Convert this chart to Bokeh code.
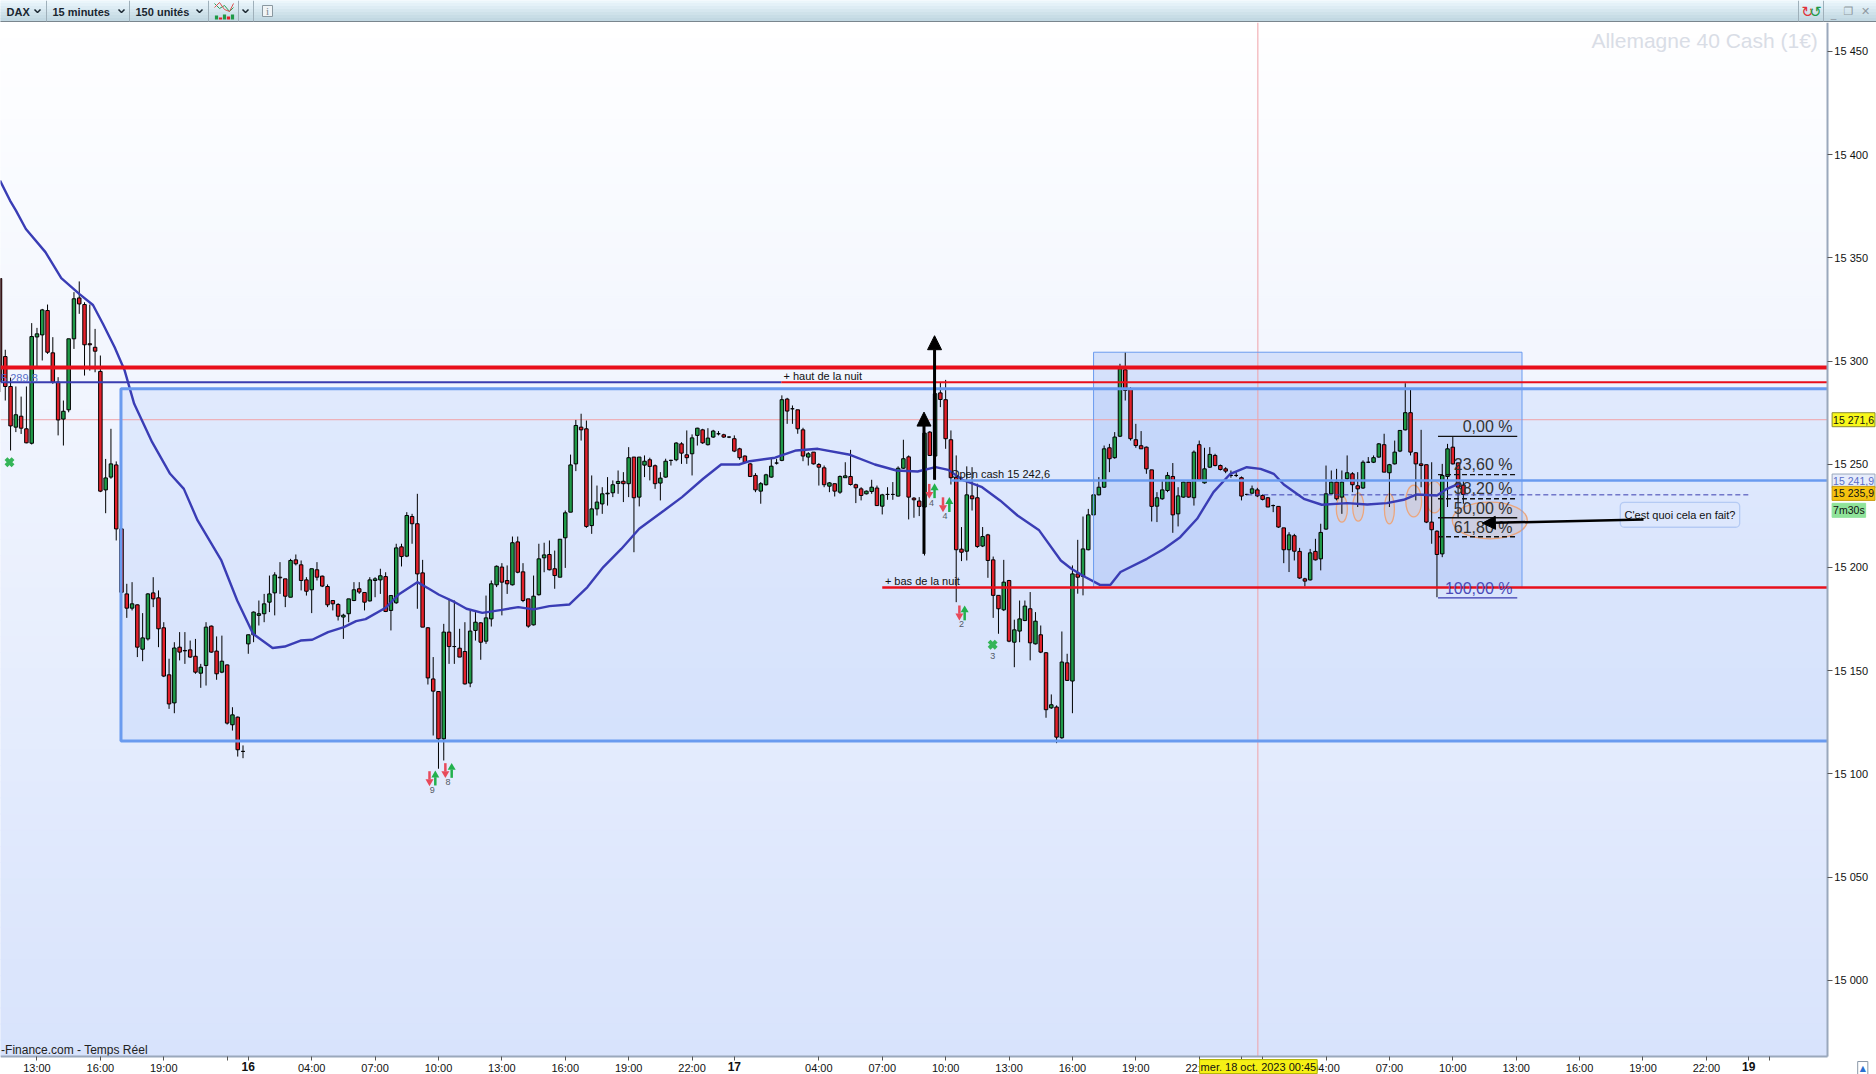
from bokeh.plotting import figure
from bokeh.layouts import column
from bokeh.models import Label, Arrow, NormalHead, FixedTicker, BoxAnnotation, Range1d
from bokeh.core.properties import value
from bokeh.embed import file_html
from bokeh.resources import INLINE

open_ = [15340,15302.2,15287.7,15268,15273.3,15267.2,15260.2,15311.7,15312.7,15324.5,
15304,15289.8,15271.9,15276.4,15310.8,15330.6,15327.4,15308.4,15306.7,15295,
15237.6,15243.8,15249.7,15218.7,15187.2,15180.3,15181.9,15160.4,15165.4,15187.7,
15185.3,15170.8,15148,15134.4,15161.4,15159.8,15160.1,15157,15148.8,15152.5,
15171.6,15159.5,15149.3,15152.8,15123.8,15127.5,15110.9,15163,15167.4,15176.8,
15177.6,15183.2,15187.7,15195.3,15194.5,15185.6,15203.7,15201.3,15194,15189.2,
15198.9,15195.8,15190.8,15184,15182.1,15176,15177.6,15184,15189.7,15187.9,
15183.8,15193.7,15194,15195.6,15179.2,15182.9,15210,15205.5,15224.7,15221.2,
15197.4,15170.8,15146,15139.9,15117,15168.7,15161.7,15160.9,15159.3,15144,
15169.5,15173.2,15164.3,15175.1,15191.6,15200.2,15193.7,15191.6,15212.4,15197.9,
15184.8,15172.2,15186.8,15204.7,15206.3,15199.4,15195.3,15214.4,15226.8,15250.2,
15268,15267.2,15220.3,15228.4,15230.8,15235.7,15236.2,15240.7,15241.8,15240.6,
15253.5,15234.1,15249.6,15252.2,15249.3,15240.9,15243.8,15251.9,15252.2,15259.9,
15254.6,15255.1,15264,15266.7,15259.5,15263.2,15264.8,15264.3,15263.2,15262.4,
15257.5,15254,15250.2,15244.6,15237,15240.1,15243.8,15250.6,15251.9,15281.6,
15276.9,15276.4,15266.7,15253.5,15255.9,15249.9,15248.3,15239.4,15240.6,15236.5,
15243.5,15244.1,15240.1,15238.1,15235.7,15236.8,15238.5,15229.7,15235.4,15235.4,
15234.6,15248.1,15253.6,15233.6,15232.2,15229.3,15265.6,15254,15284.6,15281.3,
15261.9,15243.8,15208.9,15207.9,15234.7,15233.8,15210.4,15215.8,15203.7,15186.5,
15179.5,15193.7,15163.8,15169.2,15174.3,15180,15163,15167.4,15158.7,15132,
15132.4,15117.5,15153.8,15145,15196.9,15195.7,15208.6,15225.5,15235.2,15238.9,
15258,15253.2,15263.6,15295.8,15286.6,15261.9,15259,15258.3,15247.3,15229.7,
15233.3,15237.3,15244.1,15226,15234.1,15241.4,15233.8,15259.5,15241,15248.6,
15254.3,15249.4,15247.8,15244.6,15244.6,15243.5,15235.4,15236,15237.6,15234.9,
15233.8,15230,15229.6,15219.2,15208.6,15215.4,15207.8,15194.5,15194,15207.8,
15204.2,15218.6,15235.7,15241.4,15234.1,15243,15245.4,15239.6,15238.5,15251,
15251,15253.5,15259.5,15245.9,15250.2,15256.4,15266.7,15275,15255.6,15250.2,
15249.8,15222,15217.6,15206.6,15244.1,15258.3,15250.7,15239.9]

high = [15340,15305.5,15292,15287.7,15282.8,15287.7,15318.4,15316.1,15325.3,15327.4,
15311.6,15292.2,15280.9,15310.8,15333.4,15338.6,15328.5,15327.4,15315.6,15302.7,
15252.6,15267.2,15251.4,15219.5,15192.1,15192.9,15182.1,15177.9,15187.6,15195.3,
15188.9,15173.5,15155.8,15163.8,15168.7,15168.7,15164.6,15165.4,15153.3,15173.5,
15171.9,15166.6,15167,15153,15132.3,15127.8,15113.8,15167.5,15178.7,15184,
15187.2,15196.1,15197.7,15202.6,15194.5,15204.2,15206.3,15203.4,15195.3,15199.4,
15202.6,15196.1,15191.8,15184,15182.7,15177.6,15184.8,15192.9,15192.9,15187.9,
15195.3,15195.3,15199.4,15197.7,15186.4,15211.5,15211.5,15226.8,15226,15235.7,
15203.7,15171.1,15156.6,15139.9,15172.7,15184.8,15184,15170.3,15173.5,15179.2,
15178.4,15173.5,15186.4,15193.7,15201,15202.1,15201,15215,15215,15202.1,
15184.8,15196.1,15211.5,15212,15213.1,15208.2,15213.7,15227.6,15254.7,15271.5,
15274.5,15271.2,15244.6,15239.7,15238.9,15243.8,15242.2,15247,15246.2,15258.3,
15253.5,15253.5,15254.3,15253.2,15249.9,15246.2,15252.7,15252.2,15260.7,15260.7,
15266.4,15264.5,15267.7,15267.2,15267.5,15266.7,15266.1,15264.8,15263.5,15264,
15258,15254.3,15250.6,15245.7,15241.4,15245.4,15252.7,15252.7,15283.4,15282.2,
15278.5,15276.4,15267.7,15255.9,15255.9,15250.6,15249.4,15241.4,15240.6,15244.6,
15251,15257,15240.6,15238.9,15237.3,15242.5,15239.7,15235.7,15238.9,15241.4,
15249,15261.9,15254.3,15234.1,15234.1,15269.6,15266.1,15289,15289.8,15290.9,
15266.4,15254.3,15219.6,15249,15248.6,15240.6,15219.6,15216.3,15205.3,15186.5,
15203.7,15194,15174.7,15184,15184,15188.1,15178.4,15171.9,15159,15138.5,
15133.2,15169,15158.2,15201,15213.4,15224.7,15228.4,15243,15243.8,15259.1,
15259.9,15265.6,15298.7,15304.3,15287.4,15269.6,15266.1,15258.6,15247.3,15236.5,
15242.2,15246.2,15250.6,15238.9,15241.7,15241.4,15256.7,15261.5,15258,15258.3,
15255.1,15249.9,15248.6,15247,15246.2,15244.1,15235.7,15239.7,15238.6,15235.4,
15234.1,15230.5,15229.6,15219.2,15217.1,15216.3,15209.5,15195,15209,15213.9,
15221.2,15249.4,15247,15247.8,15247,15254.3,15246.2,15246.2,15251.9,15253.5,
15254.3,15260.3,15264.8,15250.2,15261.5,15266.4,15289.3,15286.6,15255.9,15266.7,
15249.8,15251,15218,15250.2,15259.9,15263.2,15250.7,15242.2]

low = [15285,15280.9,15256.7,15265.6,15264.7,15260.2,15259.6,15296.2,15300.3,15303.5,
15289,15264,15259.1,15275.2,15305.9,15322.9,15293,15295.4,15294.6,15236.5,
15226.3,15243,15213.1,15187.2,15175.6,15179.2,15156.6,15154.6,15164.6,15180.8,
15161.4,15146.9,15131.5,15129.4,15155,15153.3,15156.2,15148.5,15141.7,15142.8,
15158.7,15145.6,15148.8,15123.9,15121,15108.4,15107.6,15158.2,15163.8,15171.9,
15173.5,15178.4,15176.8,15187.2,15180.8,15185.6,15201,15188.9,15186.4,15177.9,
15193.7,15190.5,15180.8,15179.2,15174.3,15165.4,15173.5,15183.7,15187.2,15179.2,
15183.5,15185.6,15187.2,15178.4,15169.5,15182.4,15200.5,15205,15211.5,15180,
15171.1,15143.3,15118.6,15102.5,15106.5,15153.3,15153.3,15156.6,15143.3,15142,
15164.6,15155.3,15163,15171.4,15190.5,15176.8,15187.2,15191.3,15197.2,15183.2,
15170.8,15171.9,15186.4,15197.7,15198.6,15189.7,15195.3,15199.8,15226.8,15246.7,
15261.5,15219.2,15216.3,15225.2,15226,15230,15234.1,15235.7,15231.7,15234.1,
15207.4,15229.6,15243.8,15242.2,15238.1,15232.5,15243.5,15249.4,15251.5,15250.2,
15250.2,15244.6,15259.1,15259.9,15259.1,15262.8,15264,15262.8,15262.7,15255.9,
15252.2,15250.6,15243.8,15236.5,15230.9,15239.7,15243.5,15249.9,15251.5,15269.6,
15269.6,15264.8,15251.5,15249.4,15249.9,15239.7,15238.9,15236.5,15234.4,15235.7,
15243.5,15239.7,15231.2,15232.5,15235.4,15235.7,15230,15225.7,15232.8,15232.8,
15234.4,15247.8,15223.3,15224.1,15224.9,15205.8,15254,15242.5,15277.7,15257.5,
15240.2,15183.2,15203.1,15203.4,15227.6,15209.5,15209.9,15195,15175.6,15167.9,
15178.9,15163.8,15151.7,15163.8,15174,15155,15162.7,15158.5,15127.2,15131.5,
15114.9,15117,15145,15129.4,15187.3,15186.5,15208.3,15225.2,15234.9,15238.6,
15246.2,15252.7,15263.2,15280.9,15261.5,15258,15257.5,15245.4,15222.3,15222,
15232.8,15236.5,15216.8,15219.9,15233.8,15233.8,15230,15242.2,15240.6,15248.3,
15249,15247,15245.7,15243.5,15243.8,15232.5,15234.9,15235.7,15234.1,15232.5,
15229.3,15226.8,15219.2,15202.1,15197.8,15203.4,15194.5,15190.8,15193.7,15203.4,
15198.6,15218.3,15235.7,15232.5,15226,15242.2,15236.5,15229.3,15238.1,15250.6,
15250.6,15253.2,15246.2,15229.3,15249.9,15255.9,15266.4,15254.3,15232.5,15238.9,
15221.5,15211.5,15185.6,15205,15229.3,15249.9,15224.4,15230.9]

close = [15290,15287.7,15268.6,15274,15267.5,15260.4,15311.9,15313.2,15324.8,15304.3,
15289.8,15271.5,15275.7,15310.8,15330.2,15327.7,15307.9,15307.9,15304.8,15237,
15243.4,15250.2,15218.7,15188,15180.3,15182.4,15161.4,15165.9,15187.2,15184.8,
15170.3,15147.4,15133.9,15161,15159,15159.6,15156.6,15149.3,15151.7,15171.1,
15159,15148.5,15154.6,15124.6,15128.6,15111.7,15110.9,15167.4,15178.4,15177.6,
15182.4,15187.2,15196.4,15195,15186.1,15203.4,15201.8,15193.7,15188.5,15199.4,
15195.3,15191,15181.9,15182.4,15176.4,15176.9,15184.8,15189.2,15188.1,15183.2,
15194,15194.5,15196,15178.7,15186.4,15209.5,15205.3,15225.2,15221.2,15196.9,
15171.1,15146.5,15140.1,15117,15168.7,15161.7,15161.7,15156.6,15143.6,15169.2,
15173.5,15163.8,15175.6,15192.1,15200.6,15192.9,15192.1,15212,15197.7,15184,
15171.6,15186.1,15204.2,15206.1,15198.9,15196.1,15213.7,15226.5,15249.7,15268.8,
15266.7,15219.9,15228.4,15231.7,15235.7,15236,15240.1,15241.7,15240.6,15253.2,
15233.8,15253.5,15251.5,15249,15240.6,15243.3,15251.5,15251.9,15260.3,15255.4,
15253.2,15262.8,15267.5,15260.4,15262.7,15266.1,15264.8,15263.2,15263.2,15256.4,
15253.2,15251,15244.1,15237.6,15240.6,15244.9,15249.1,15250.6,15281.3,15275.8,
15276.9,15267.2,15254,15255.1,15250.2,15248.6,15240.1,15241,15237,15244.1,
15244.4,15240.2,15238.6,15234.9,15237,15238.9,15230,15235.2,15235.4,15235.4,
15248.1,15252.7,15234.1,15232.8,15229.6,15265.1,15254.3,15284.2,15281.4,15262.4,
15243.5,15208.6,15207.4,15235.2,15233.3,15210.2,15215,15203.4,15186.5,15180,
15192.9,15164.3,15169.8,15175.1,15181.3,15163.5,15174,15159,15131.1,15133.5,
15117.8,15154.2,15145.3,15196.9,15195.3,15209,15225.5,15235.2,15238.9,15257.5,
15252.7,15263.2,15296.3,15285.8,15262.4,15259.1,15257.5,15247.8,15229.6,15233.8,
15237.6,15244.6,15225.5,15234.7,15241.4,15234.1,15255.9,15242.5,15247.8,15254.8,
15249.4,15247.5,15246.7,15244.6,15244.6,15234.6,15235.4,15238.1,15234.7,15233,
15229.3,15230,15219.6,15208.6,15215.8,15207.9,15194.9,15193.4,15207.1,15203.7,
15217,15235.7,15241.4,15233.3,15241.4,15245.9,15240.1,15238.1,15251,15251,
15253.2,15259.9,15246.2,15249.8,15255.9,15266.4,15275,15255.9,15250.2,15249.4,
15222,15218.3,15206.3,15244.6,15257.5,15250.2,15238.9,15235.4]

ma_bar = [0,1.9,3,4.9,8.6,11.6,15,17.6,19.5,21.7,23.6,25.4,28.8,32.2,34.8,37.4,41.9,44.9,47.9,51.6,53.9,56.9,59.1,62.1,65.1,67.4,69.2,73,75.6,79,81.2,83.1,86.1,88.3,91.3,95,98.1,101,104,107.8,111.2,114.2,117.6,121,125.7,129.1,133.1,136.5,139.9,141.9,146.7,150.7,154.8,160.9,165.6,169.7,173.7,177.1,179.5,182.2,185.9,189.3,192.6,196.7,200.8,202.8,205.5,208.2,210.2,212.1,217.1,220.3,223.4,226.6,229.7,232.9,236,238.6,241.1,243,246.8,250.2,255,258.8,262.5,265.7,268.2,272,273.9,276.4]
ma_val = [15387.5,15377.8,15373,15364,15352.8,15340.2,15332.6,15327.2,15318,15306.7,15295.4,15279.3,15260.7,15245.4,15238.1,15222.8,15203.4,15184,15167.9,15161,15161.7,15164.6,15165,15168.7,15171.1,15174,15175,15180.5,15187.2,15192.9,15189.7,15186.8,15183.2,15180,15178,15179.5,15180.8,15179.7,15181.3,15182.1,15190.5,15200.2,15209,15218.8,15227.6,15234.1,15243,15249.9,15249.9,15251.5,15253.2,15256.7,15257.5,15254.6,15249.9,15247,15246.5,15248.6,15247.3,15242.5,15238.9,15232.5,15225.2,15218,15203.4,15199.4,15195.3,15191.6,15191.6,15197.8,15204.2,15209,15214.7,15223.6,15236.5,15245.4,15248.6,15247.8,15245.4,15240.2,15233.3,15230.4,15231.2,15230.5,15231.2,15232.8,15235.4,15234.9,15238.1,15240.9]

y_ticks = [15000, 15050, 15100, 15150, 15200, 15250, 15300, 15350, 15400, 15450]
y_tick_labels = ["15 000", "15 050", "15 100", "15 150", "15 200", "15 250", "15 300", "15 350", "15 400", "15 450"]
x_ticks = [7,19,31,43,47,59,71,83,95,107,119,131,139,155,167,179,191,203,215,227,235,239,251,263,275,287,299,311,323,331,335]
x_tick_labels = ["13:00","16:00","19:00","","","04:00","07:00","10:00","13:00","16:00","19:00","22:00","","04:00","07:00","10:00","13:00","16:00","19:00","22:00","","","04:00","07:00","10:00","13:00","16:00","19:00","22:00","",""]
day_ticks = [47, 139, 331]
day_labels = ["16", "17", "19"]

level_top_red = 15296.9
level_night_high = 15289.8
level_crosshair = 15271.6
level_open_cash = 15242.2
level_last = 15235.2
level_night_low = 15190.3
box1 = (22.9, 15286.6, 15116.0)
box2 = (207.0, 288.1, 15304.3, 15190.3)
fib_x = (272.2, 287.2)
fib_levels = [15263.5, 15245.0, 15233.3, 15224.1, 15214.9, 15185.3]
fib_text_y = [15268.3, 15249.9, 15238.1, 15228.8, 15219.6, 15189.7]
fib_names = ["0,00 %", "23,60 %", "38,20 %", "50,00 %", "61,80 %", "100,00 %"]
ell_x = [254, 257.1, 263, 267.6, 271.5, 282]
ell_y = [15228.4, 15229.3, 15228.4, 15232.2, 15234.1, 15222.8]
ell_w = [2.1, 2.1, 1.9, 3, 3.2, 14.2]
ell_h = [12.9, 13.7, 14.5, 15.3, 15.3, 17.8]
sig_red_x = [81.3, 84.3, 175.9, 178.5, 181.6]
sig_red_y = [15097.3, 15101.2, 15236.5, 15230, 15177.6]
sig_grn_x = [82.4, 85.5, 176.9, 179.7, 182.6]
sig_grn_y = [15098.4, 15102.1, 15237.6, 15230.9, 15178.4]
sig_txt_x = [81.8, 84.8, 176.3, 178.9, 182, 187.9]
sig_txt_y = [15092, 15096, 15231.4, 15224.9, 15172.6, 15156.9]
sig_txt = ["9", "8", "4", "4", "2", "3"]
cross_x = [1.8, 187.9]
cross_y = [15251, 15162.6]

FONT = "Liberation Sans"
GREEN, RED = "#1f9a48", "#e3202a"
XR = (0.095, 355.2)
YR = (14954.36, 15464.05)
PLOT_R = 345.9
PLOT_B = 14963.1

p = figure(width=1876, height=1052, output_backend="svg", toolbar_location=None,
           x_range=Range1d(*XR), y_range=Range1d(*YR), x_axis_location="below",
           y_axis_location="right", min_border=0, outline_line_color=None,
           background_fill_color="#ffffff", border_fill_color="#ffffff")
p.grid.visible = False

# axes are pinned inside the frame so price tags can overlap their strip
p.xaxis.fixed_location = PLOT_B
p.yaxis.fixed_location = PLOT_R
p.xaxis.bounds = (XR[0], PLOT_R)
p.yaxis.bounds = (PLOT_B, YR[1])
p.xaxis.ticker = FixedTicker(ticks=x_ticks)
p.xaxis.major_label_overrides = dict(zip(x_ticks, x_tick_labels))
p.yaxis.ticker = FixedTicker(ticks=y_ticks)
p.yaxis.major_label_overrides = dict(zip(y_ticks, y_tick_labels))
for ax in (p.xaxis[0], p.yaxis[0]):
    ax.major_label_text_font = FONT
    ax.major_label_text_font_size = "11px"
    ax.major_label_text_color = "#111111"
    ax.axis_line_color = "#9aa8bc"
    ax.axis_line_width = 2
    ax.major_tick_line_color = "#555555"
    ax.major_tick_in = 0
    ax.minor_tick_out = 0
    ax.minor_tick_in = 0
p.xaxis.major_tick_out = 4
p.yaxis.major_tick_out = 5
p.xaxis.major_label_standoff = 2
p.yaxis.major_label_standoff = 2

# background gradient (white to pale blue, top to bottom), plot area only
N = 64
bands_top, bands_bot, bands_col = [], [], []
for i in range(N):
    t = (i + 0.5) / N
    col = "#%02x%02x%02x" % (round(255 - 39 * t), round(255 - 28 * t), round(255 - 3 * t))
    bands_top.append(YR[1] - (YR[1] - PLOT_B) * i / N)
    bands_bot.append(YR[1] - (YR[1] - PLOT_B) * (i + 1) / N)
    bands_col.append(col)
p.quad(left=XR[0], right=PLOT_R, top=bands_top, bottom=bands_bot, fill_color=bands_col, line_color=bands_col)

# drawn boxes
p.quad(left=[box1[0]], right=[PLOT_R], top=[box1[1]], bottom=[box1[2]], fill_color="#8fb0f7", fill_alpha=0.17, line_color=None)
p.quad(left=[box2[0]], right=[box2[1]], top=[box2[2]], bottom=[box2[3]], fill_color="#6f98f2", fill_alpha=0.22, line_color=None)

# crosshair
p.segment(x0=[XR[0]], x1=[PLOT_R], y0=[level_crosshair], y1=[level_crosshair], line_color="#f0a2a8", line_width=1)
p.segment(x0=[238.1], x1=[238.1], y0=[PLOT_B], y1=[YR[1]], line_color="#f0a2a8", line_width=1)

# ellipses
p.ellipse(x=ell_x, y=ell_y, width=ell_w, height=ell_h, fill_color="#d6c8cc", fill_alpha=0.55, line_color="#eba67e", line_width=1.3)

# candles
bars = list(range(len(close)))
up = [c >= o for o, c in zip(open_, close)]
p.segment(x0=bars, x1=bars, y0=low, y1=high, line_color="#000000", line_width=1)
p.vbar(x=bars, width=0.66, top=[max(o, c) for o, c in zip(open_, close)], bottom=[min(o, c) for o, c in zip(open_, close)],
       fill_color=[GREEN if u else RED for u in up], line_color="#000000", line_width=1)

# moving average
p.line(ma_bar, ma_val, line_color="#3a3db5", line_width=2.4)

# box outlines
p.line([PLOT_R, box1[0], box1[0], PLOT_R], [box1[1], box1[1], box1[2], box1[2]], line_color="#6a9bef", line_width=3)
p.quad(left=[box2[0]], right=[box2[1]], top=[box2[2]], bottom=[box2[3]], fill_color=None, line_color="#6a9bef", line_width=1)

# horizontal levels
p.segment(x0=[XR[0]], x1=[PLOT_R], y0=[level_top_red], y1=[level_top_red], line_color="#e8101c", line_width=4)
p.segment(x0=[XR[0]], x1=[147.9], y0=[level_night_high], y1=[level_night_high], line_color="#3a3db0", line_width=2)
p.segment(x0=[147.9], x1=[PLOT_R], y0=[level_night_high], y1=[level_night_high], line_color="#e8101c", line_width=2)
p.segment(x0=[179.9], x1=[PLOT_R], y0=[level_open_cash], y1=[level_open_cash], line_color="#6a9bef", line_width=2.5)
p.segment(x0=[167], x1=[PLOT_R], y0=[level_night_low], y1=[level_night_low], line_color="#e8101c", line_width=2.5)
p.segment(x0=[236.1], x1=[331], y0=[level_last], y1=[level_last], line_color="#3a3db0", line_width=1, line_dash="5 3")

# fibonacci
styles = ["solid", "5 3", "5 3", "solid", "5 3", "solid"]
fcol = ["#111111"] * 5 + ["#3a3db0"]
for lv, st, c in zip(fib_levels, styles, fcol):
    p.segment(x0=[fib_x[0]], x1=[fib_x[1]], y0=[lv], y1=[lv], line_color=c, line_width=1.3, line_dash=st)
p.text(x=[286.3] * 6, y=fib_text_y, text=fib_names, text_align="right", text_baseline="middle",
       text_font=value(FONT), text_font_size="16px", text_color=["#333333"] * 5 + ["#4a4ab8"])

# signals
p.segment(x0=sig_red_x, x1=sig_red_x, y0=[v + 4 for v in sig_red_y], y1=sig_red_y, line_color="#e8495a", line_width=2.5)
p.scatter(sig_red_x, [v - 1 for v in sig_red_y], marker="inverted_triangle", size=8, fill_color="#e8495a", line_color=None)
p.segment(x0=sig_grn_x, x1=sig_grn_x, y0=[v - 4 for v in sig_grn_y], y1=sig_grn_y, line_color="#22b14c", line_width=2.5)
p.scatter(sig_grn_x, [v + 1 for v in sig_grn_y], marker="triangle", size=8, fill_color="#22b14c", line_color=None)
p.scatter(cross_x, cross_y, marker="x", size=10, line_color="#35b558", line_width=4)
p.text(x=sig_txt_x, y=sig_txt_y, text=sig_txt, text_align="center", text_baseline="middle",
       text_font=value(FONT), text_font_size="9px", text_color="#555a66")

# texts on chart
p.text(x=[148.3, 167.5, 180.0], y=[15293, 15193.7, 15245.5],
       text=["+ haut de la nuit", "+ bas de la nuit", "Open cash 15 242,6"],
       text_baseline="middle", text_font=value(FONT), text_font_size="11px", text_color="#111111")
p.text(x=[0.2], y=[15292], text=["5 289,8"], text_baseline="middle",
       text_font=value(FONT), text_font_size="11px", text_color="#5a6ec8")
p.text(x=[344.1], y=[15455.5], text=["Allemagne 40 Cash (1€)"], text_align="right", text_baseline="middle",
       text_font=value(FONT), text_font_size="21px", text_color="#d9dde6")
p.text(x=[0.2], y=[14966], text=["-Finance.com - Temps Réel"], text_baseline="middle",
       text_font=value(FONT), text_font_size="12px", text_color="#222222")

# callout and arrows
p.add_layout(BoxAnnotation(left=306.7, right=329.3, top=15231.6, bottom=15219.5, fill_color="#dde7fd",
                           fill_alpha=1, line_color="#5a8ae0", line_width=1.3, border_radius=4))
p.add_layout(Label(x=318, y=15225.5, text="C'est quoi cela en fait?", text_align="center", text_baseline="middle",
                   text_font=FONT, text_font_size="11px", text_color="#111111"))
for xs, ys, xe, ye, w, sz in [(311.1, 15223.3, 280.6, 15221.5, 2.5, 13), (174.9, 15206.6, 174.9, 15275.3, 3, 14),
                              (176.9, 15242.5, 176.9, 15312.3, 3, 14)]:
    p.add_layout(Arrow(end=NormalHead(size=sz, fill_color="#000000", line_color="#000000"), line_color="#000000",
                       line_width=w, x_start=xs, y_start=ys, x_end=xe, y_end=ye))

# price tags in the right strip
for txt, yv, bg, fg, bc in [("15 241,9", 15241.9, "#e6ecfb", "#5a6ec8", "#9aa8bc"),
                            ("15 271,6", 15271.6, "#f8f81a", "#111111", "#8a8a30"),
                            ("15 235,9", 15235.9, "#f4c20f", "#111111", "#c89a10"),
                            ("7m30s", 15227.7, "#8fe39a", "#111111", "#8fe39a")]:
    p.add_layout(Label(x=346.8, y=yv, text=txt, text_baseline="middle", text_font=FONT, text_font_size="10.5px",
                       text_color=fg, background_fill_color=bg, border_line_color=bc, padding=1))

# bold day labels and date tag under the axis
for d, t in zip(day_ticks, day_labels):
    p.add_layout(Label(x=d, y=14958.2, text=t, text_align="center", text_baseline="middle", text_font=FONT,
                       text_font_size="12px", text_font_style="bold", text_color="#111111"))
p.add_layout(Label(x=238.2, y=14958.2, text="mer. 18 oct. 2023 00:45", text_align="center", text_baseline="middle",
                   text_font=FONT, text_font_size="11px", text_color="#111111", background_fill_color="#f6f015",
                   border_line_color="#b0b000", padding=1))
p.add_layout(Label(x=352.6, y=14957.5, text="▲", text_align="center", text_baseline="middle", text_font="DejaVu Sans",
                   text_font_size="8px", text_color="#2a6fd0", background_fill_color="#ffffff",
                   border_line_color="#8a98a8", padding=2))

# toolbar strip above the chart
tb = figure(width=1876, height=22, output_backend="svg", toolbar_location=None, x_range=Range1d(0, 1876),
            y_range=Range1d(0, 22), min_border=0, outline_line_color=None, x_axis_type=None, y_axis_type=None)
tb.grid.visible = False
tb_cols = ["#ebf6fb", "#e4f1f8", "#ddecf4", "#d6e7ef", "#cfe2ea", "#c8dde6", "#c2d8e2", "#7a868e"]
tb.quad(left=0, right=1876, top=[22, 19, 16, 13, 10, 7, 4, 1], bottom=[19, 16, 13, 10, 7, 4, 1, 0], fill_color=tb_cols, line_color=tb_cols)
tb.segment(x0=[46, 129, 208, 238, 253, 1798, 1823], x1=[46, 129, 208, 238, 253, 1798, 1823], y0=1, y1=22, line_color="#9fb0ba", line_width=1)
tb.text(x=[6, 52, 135], y=[11, 11, 11], text=["DAX", "15 minutes", "150 unités"], text_baseline="middle",
        text_font=value(FONT), text_font_size="11px", text_font_style="bold", text_color="#1a2630")
chev = [37, 121, 199, 245]
tb.multi_line(xs=[[c - 3, c, c + 3] for c in chev], ys=[[13, 10, 13]] * len(chev), line_color="#1a2630", line_width=1.5)
tb.vbar(x=[216, 220, 224, 228, 232], width=3.2, top=[7, 5, 8, 6, 8], bottom=3, fill_color=["#1f9a48", "#e3202a", "#1f9a48", "#e3202a", "#1f9a48"], line_color=None)
tb.line([214, 219, 224, 229, 233], [19, 14, 17, 11, 15], line_color="#2f9e55", line_width=1)
tb.line([214, 219, 224, 229, 233], [15, 20, 13, 11, 19], line_color="#d9534f", line_width=1)
tb.quad(left=[262], right=[272], top=[17], bottom=[6], fill_color="#f0f4f6", line_color="#8a98a0")
tb.text(x=[267], y=[11.5], text=["i"], text_align="center", text_baseline="middle", text_font=value("Liberation Serif"),
        text_font_size="11px", text_color="#7a868e")
tb.text(x=[1807], y=[11], text=["↻"], text_align="center", text_baseline="middle", text_font=value("DejaVu Sans"),
        text_font_size="15px", text_color="#e0323a")
tb.text(x=[1815], y=[11], text=["↺"], text_align="center", text_baseline="middle", text_font=value("DejaVu Sans"),
        text_font_size="15px", text_color="#1f9a48")
tb.text(x=[1833, 1848, 1865], y=[9, 11, 11], text=["_", "❐", "✕"], text_align="center", text_baseline="middle",
        text_font=value("DejaVu Sans"), text_font_size="11px", text_color="#8f9aa2")

layout = column(tb, p, spacing=0)
open("out.html", "w").write(file_html(layout, INLINE))
